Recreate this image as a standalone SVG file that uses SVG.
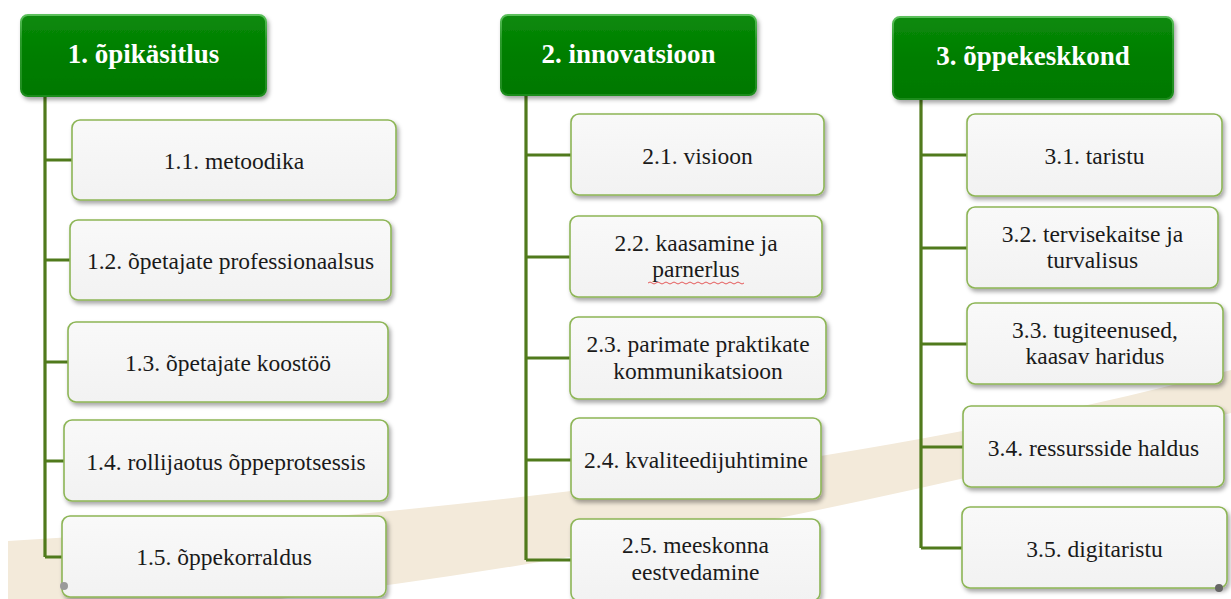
<svg xmlns="http://www.w3.org/2000/svg" width="1231" height="599" viewBox="0 0 1231 599">
<defs>
<filter id="sh" x="-10%" y="-10%" width="125%" height="135%">
<feDropShadow dx="2" dy="3" stdDeviation="2" flood-color="#000" flood-opacity="0.35"/>
</filter>
<linearGradient id="hg" x1="0" y1="0" x2="0" y2="1">
<stop offset="0" stop-color="#0a8a0a"/>
<stop offset="0.5" stop-color="#017e01"/>
<stop offset="1" stop-color="#007800"/>
</linearGradient>
<linearGradient id="hs" x1="0" y1="0" x2="0" y2="1">
<stop offset="0" stop-color="#5cc05c"/>
<stop offset="0.3" stop-color="#2a9a2a"/>
<stop offset="1" stop-color="#1e8c1e"/>
</linearGradient>
<linearGradient id="cg" x1="0" y1="0" x2="0" y2="1">
<stop offset="0" stop-color="#f9f9f9"/>
<stop offset="1" stop-color="#f2f2f2"/>
</linearGradient>
</defs>
<style>
.hdr rect{fill:url(#hg);stroke:url(#hs);stroke-width:2;filter:url(#sh)}
.hdr text{font-family:"Liberation Serif","DejaVu Serif",serif;font-weight:bold;font-size:27px;fill:#ffffff;text-anchor:middle}
.ch rect{fill:url(#cg);stroke:#8db556;stroke-width:1.6;filter:url(#sh)}
.ch text{font-family:"Liberation Serif","DejaVu Serif",serif;font-size:23.5px;fill:#1a1a1a;text-anchor:middle}
.con path{fill:none;stroke:#507a1c;stroke-width:3.2;stroke-linejoin:miter}
</style>
<rect width="1231" height="599" fill="#ffffff"/>
<path d="M 8,541 Q 766,495 1231,370 L 1231,413 Q 717,547 280,599 L 8,599 Z" fill="#f3eada"/>

<g id="connectors" class="con">
<path d="M 45,96 V 557 M 45,160 H 72 M 45,260 H 70 M 45,362 H 68 M 45,461 H 64 M 45,557 H 62"/>
<path d="M 526,95 V 560 M 526,155 H 571 M 526,257 H 570 M 526,358 H 570 M 526,460 H 571 M 526,560 H 571"/>
<path d="M 921,99 V 548 M 921,155 H 967 M 921,248 H 967 M 921,344 H 967 M 921,447 H 963 M 921,548 H 962"/>
</g>

<g id="n1" class="hdr"><rect x="21" y="15" width="245" height="81" rx="7"/><text x="143.5" y="63">1. õpikäsitlus</text></g>
<g id="n2" class="hdr"><rect x="501" y="15" width="255" height="80" rx="7"/><text x="628.5" y="63">2. innovatsioon</text></g>
<g id="n3" class="hdr"><rect x="893" y="17" width="280" height="82" rx="7"/><text x="1033" y="65">3. õppekeskkond</text></g>

<g id="n11" class="ch"><rect x="72" y="120" width="324" height="80" rx="8"/><text x="234" y="169">1.1. metoodika</text></g>
<g id="n12" class="ch"><rect x="70" y="220" width="321" height="80" rx="8"/><text x="230.5" y="269">1.2. õpetajate professionaalsus</text></g>
<g id="n13" class="ch"><rect x="68" y="322" width="320" height="80" rx="8"/><text x="228" y="371">1.3. õpetajate koostöö</text></g>
<g id="n14" class="ch"><rect x="64" y="420" width="324" height="81" rx="8"/><text x="226" y="470">1.4. rollijaotus õppeprotsessis</text></g>
<g id="n15" class="ch"><rect x="62" y="516" width="324" height="81" rx="8"/><text x="224" y="565">1.5. õppekorraldus</text><circle cx="64" cy="586" r="4" fill="#9a9a9a" stroke="none"/></g>

<g id="n21" class="ch"><rect x="571" y="114" width="253" height="81" rx="8"/><text x="697.5" y="164">2.1. visioon</text></g>
<g id="n22" class="ch"><rect x="570" y="216" width="252" height="81" rx="8"/><text x="696" y="250.5">2.2. kaasamine ja</text><text x="696" y="277">parnerlus</text><path d="M 648,283 q 2,-2 4,0 t 4,0 t 4,0 t 4,0 t 4,0 t 4,0 t 4,0 t 4,0 t 4,0 t 4,0 t 4,0 t 4,0 t 4,0 t 4,0 t 4,0 t 4,0 t 4,0 t 4,0 t 4,0 t 4,0 t 4,0 t 4,0 t 4,0 t 4,0" fill="none" stroke="#e03030" stroke-width="0.8"/></g>
<g id="n23" class="ch"><rect x="570" y="317" width="256" height="82" rx="8"/><text x="698" y="352">2.3. parimate praktikate</text><text x="698" y="378.5">kommunikatsioon</text></g>
<g id="n24" class="ch"><rect x="571" y="418" width="250" height="81" rx="8"/><text x="696" y="468">2.4. kvaliteedijuhtimine</text></g>
<g id="n25" class="ch"><rect x="571" y="519" width="249" height="82" rx="8"/><text x="695.5" y="553">2.5. meeskonna</text><text x="695.5" y="580">eestvedamine</text></g>

<g id="n31" class="ch"><rect x="967" y="114" width="255" height="82" rx="8"/><text x="1094.5" y="164">3.1. taristu</text></g>
<g id="n32" class="ch"><rect x="967" y="207" width="251" height="81" rx="8"/><text x="1092.5" y="241.5">3.2. tervisekaitse ja</text><text x="1092.5" y="268">turvalisus</text></g>
<g id="n33" class="ch"><rect x="967" y="303" width="256" height="81" rx="8"/><text x="1095" y="338">3.3. tugiteenused,</text><text x="1095" y="364">kaasav haridus</text></g>
<g id="n34" class="ch"><rect x="963" y="406" width="261" height="81" rx="8"/><text x="1093.5" y="456">3.4. ressursside haldus</text></g>
<g id="n35" class="ch"><rect x="962" y="507" width="265" height="81" rx="8"/><text x="1094.5" y="557">3.5. digitaristu</text><circle cx="1219" cy="588" r="4" fill="#666" stroke="none"/></g>
</svg>
